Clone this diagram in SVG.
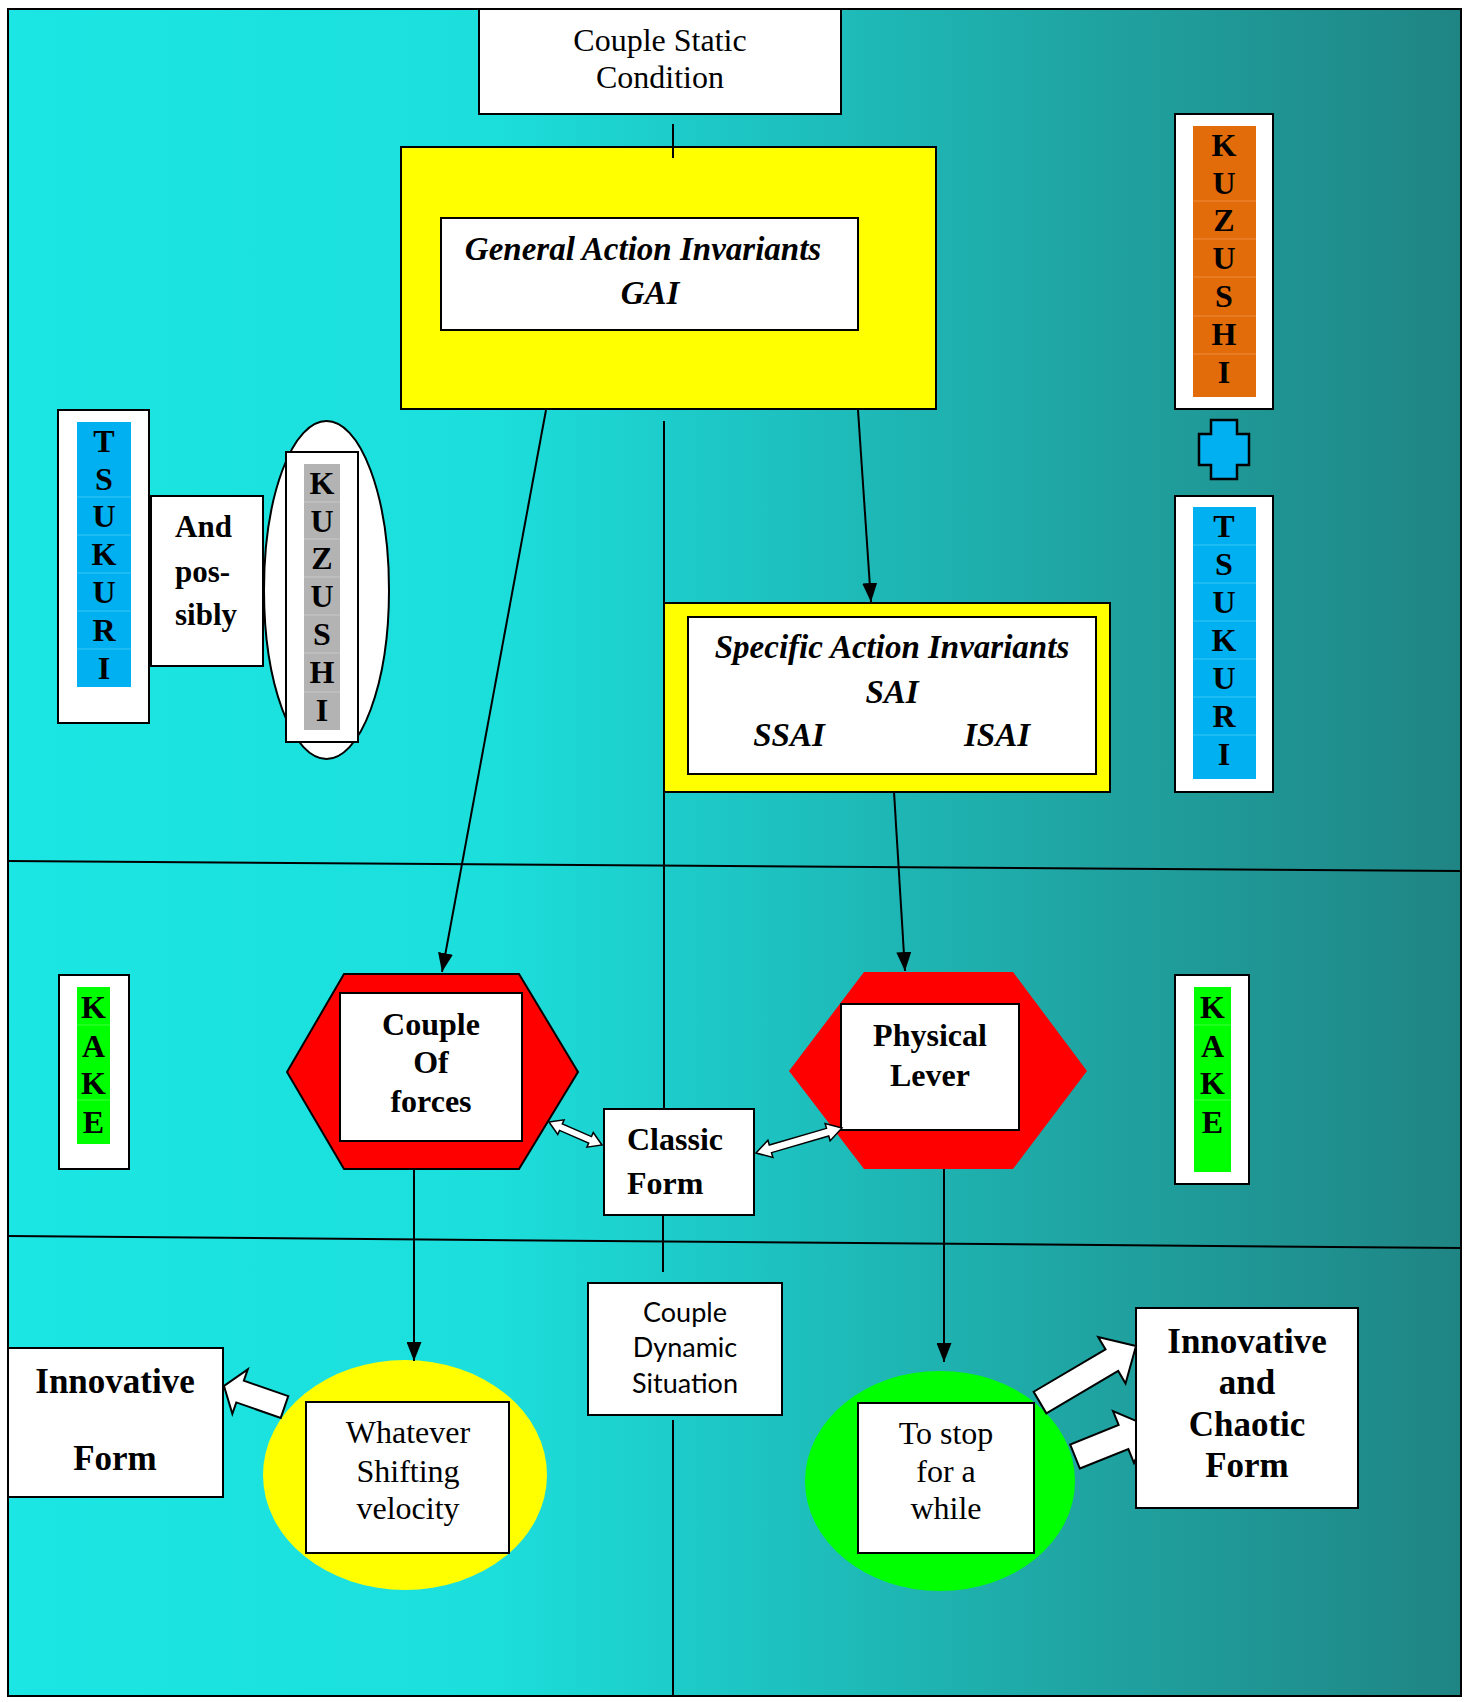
<svg xmlns="http://www.w3.org/2000/svg" width="1468" height="1702" viewBox="0 0 1468 1702">
<defs>
<linearGradient id="bg" x1="0" y1="0" x2="1" y2="0">
<stop offset="0" stop-color="#1BE6E3"/>
<stop offset="0.33" stop-color="#1CDFDC"/>
<stop offset="0.5" stop-color="#1DC6C4"/>
<stop offset="0.75" stop-color="#1FA3A1"/>
<stop offset="1" stop-color="#1F8584"/>
</linearGradient>
<marker id="ah" viewBox="0 0 19 15" refX="19" refY="7.5" markerWidth="19" markerHeight="15" markerUnits="userSpaceOnUse" orient="auto">
<path d="M0,0 L19,7.5 L0,15 z" fill="#000"/>
</marker>
<style>
.box{fill:#fff;stroke:#000;stroke-width:2}
.ln{stroke:#000;stroke-width:2;fill:none}
.blk{fill:#fff;stroke:#000;stroke-width:2;stroke-linejoin:miter}
.dbl{fill:#fff;stroke:#000;stroke-width:1.5}
.sr{font-family:"Liberation Serif","Times New Roman",serif;fill:#000}
.b{font-weight:bold}
.i{font-style:italic}
.mid{text-anchor:middle}
.let{font-family:"Liberation Serif","Times New Roman",serif;font-weight:bold;font-size:32px;text-anchor:middle;fill:#000}
.sans{font-family:Lato,"Liberation Sans",sans-serif;font-size:27px;text-anchor:middle;fill:#000}
.cl-o{stroke:#EE8A3A;stroke-width:1}
.cl-b{stroke:#3CC4F5;stroke-width:1}
.cl-g{stroke:#C8C8C8;stroke-width:1}
.cl-n{stroke:#40FF40;stroke-width:1}
</style>
</defs>

<rect x="0" y="0" width="1468" height="1702" fill="#fff"/>
<rect x="8" y="9" width="1453" height="1687" fill="url(#bg)" stroke="#000" stroke-width="2"/>

<g id="dividers">
<line class="ln" x1="8" y1="861" x2="1461" y2="871"/>
<line class="ln" x1="8" y1="1236" x2="1461" y2="1248"/>
<line class="ln" x1="664" y1="421" x2="664" y2="1109"/>
<line class="ln" x1="663" y1="1215" x2="663" y2="1272"/>
<line class="ln" x1="673" y1="1420" x2="673" y2="1696"/>
</g>

<g id="couple-static">
<rect class="box" x="479" y="9" width="362" height="105"/>
<text class="sr mid" x="660" y="51" font-size="32">Couple Static</text>
<text class="sr mid" x="660" y="88" font-size="32">Condition</text>
</g>

<g id="gai">
<rect x="401" y="147" width="535" height="262" fill="#FFFF00" stroke="#000" stroke-width="2"/>
<rect class="box" x="441" y="218" width="417" height="112"/>
<text class="sr b i mid" x="643" y="260" font-size="33">General Action Invariants</text>
<text class="sr b i mid" x="650" y="304" font-size="33">GAI</text>
</g>

<g id="kuzushi-right">
<rect class="box" x="1175" y="114" width="98" height="295"/>
<rect x="1193" y="126" width="63" height="271" fill="#E36C0A"/>
<line class="cl-o" x1="1193" y1="201" x2="1256" y2="201"/>
<line class="cl-o" x1="1193" y1="239" x2="1256" y2="239"/>
<line class="cl-o" x1="1193" y1="277" x2="1256" y2="277"/>
<line class="cl-o" x1="1193" y1="316" x2="1256" y2="316"/>
<line class="cl-o" x1="1193" y1="354" x2="1256" y2="354"/>
<text class="let" x="1224" y="156">K</text>
<text class="let" x="1224" y="194">U</text>
<text class="let" x="1224" y="231">Z</text>
<text class="let" x="1224" y="269">U</text>
<text class="let" x="1224" y="307">S</text>
<text class="let" x="1224" y="345">H</text>
<text class="let" x="1224" y="383">I</text>
</g>

<g id="plus">
<path d="M1211,420 H1237 V434 H1249 V465 H1237 V479 H1211 V465 H1199 V434 H1211 Z" fill="#00B0F0" stroke="#000" stroke-width="2.5"/>
</g>

<g id="tsukuri-right">
<rect class="box" x="1175" y="496" width="98" height="296"/>
<rect x="1193" y="507" width="63" height="272" fill="#00B0F0"/>
<line class="cl-b" x1="1193" y1="545" x2="1256" y2="545"/>
<line class="cl-b" x1="1193" y1="583" x2="1256" y2="583"/>
<line class="cl-b" x1="1193" y1="621" x2="1256" y2="621"/>
<line class="cl-b" x1="1193" y1="659" x2="1256" y2="659"/>
<line class="cl-b" x1="1193" y1="697" x2="1256" y2="697"/>
<line class="cl-b" x1="1193" y1="735" x2="1256" y2="735"/>
<text class="let" x="1224" y="537">T</text>
<text class="let" x="1224" y="575">S</text>
<text class="let" x="1224" y="613">U</text>
<text class="let" x="1224" y="651">K</text>
<text class="let" x="1224" y="689">U</text>
<text class="let" x="1224" y="727">R</text>
<text class="let" x="1224" y="765">I</text>
</g>

<g id="tsukuri-left">
<rect class="box" x="58" y="410" width="91" height="313"/>
<rect x="77" y="422" width="54" height="265" fill="#00B0F0"/>
<line class="cl-b" x1="77" y1="497" x2="131" y2="497"/>
<line class="cl-b" x1="77" y1="535" x2="131" y2="535"/>
<line class="cl-b" x1="77" y1="573" x2="131" y2="573"/>
<line class="cl-b" x1="77" y1="611" x2="131" y2="611"/>
<line class="cl-b" x1="77" y1="649" x2="131" y2="649"/>
<text class="let" x="104" y="452">T</text>
<text class="let" x="104" y="490">S</text>
<text class="let" x="104" y="527">U</text>
<text class="let" x="104" y="565">K</text>
<text class="let" x="104" y="603">U</text>
<text class="let" x="104" y="641">R</text>
<text class="let" x="104" y="679">I</text>
</g>

<g id="and-possibly">
<rect class="box" x="151" y="496" width="112" height="170"/>
<text class="sr b" x="175" y="537" font-size="31">And</text>
<text class="sr b" x="175" y="582" font-size="31">pos-</text>
<text class="sr b" x="175" y="625" font-size="31">sibly</text>
</g>

<g id="kuzushi-left">
<ellipse cx="326.5" cy="590" rx="62.5" ry="169" fill="#fff" stroke="#000" stroke-width="2"/>
<rect class="box" x="286" y="452" width="72" height="290"/>
<rect x="304" y="464" width="36" height="266" fill="#B3B3B3"/>
<line class="cl-g" x1="304" y1="502" x2="340" y2="502"/>
<line class="cl-g" x1="304" y1="539" x2="340" y2="539"/>
<line class="cl-g" x1="304" y1="577" x2="340" y2="577"/>
<line class="cl-g" x1="304" y1="615" x2="340" y2="615"/>
<line class="cl-g" x1="304" y1="653" x2="340" y2="653"/>
<line class="cl-g" x1="304" y1="692" x2="340" y2="692"/>
<text class="let" x="322" y="494">K</text>
<text class="let" x="322" y="532">U</text>
<text class="let" x="322" y="569">Z</text>
<text class="let" x="322" y="607">U</text>
<text class="let" x="322" y="645">S</text>
<text class="let" x="322" y="683">H</text>
<text class="let" x="322" y="721">I</text>
</g>

<g id="sai">
<rect x="664" y="603" width="446" height="189" fill="#FFFF00" stroke="#000" stroke-width="2"/>
<rect class="box" x="688" y="617" width="408" height="157"/>
<text class="sr b i mid" x="892" y="658" font-size="33">Specific Action Invariants</text>
<text class="sr b i mid" x="892" y="703" font-size="33">SAI</text>
<text class="sr b i mid" x="789" y="746" font-size="33">SSAI</text>
<text class="sr b i mid" x="997" y="746" font-size="33">ISAI</text>
</g>

<g id="kake-left">
<rect class="box" x="59" y="975" width="70" height="194"/>
<rect x="77" y="987" width="33" height="157" fill="#00FF00"/>
<line class="cl-n" x1="77" y1="1025" x2="110" y2="1025"/>
<line class="cl-n" x1="77" y1="1100" x2="110" y2="1100"/>
<text class="let" x="93.5" y="1018">K</text>
<text class="let" x="93.5" y="1057">A</text>
<text class="let" x="93.5" y="1094">K</text>
<text class="let" x="93.5" y="1133">E</text>
</g>

<g id="kake-right">
<rect class="box" x="1175" y="975" width="74" height="209"/>
<rect x="1194" y="987" width="37" height="185" fill="#00FF00"/>
<line class="cl-n" x1="1194" y1="1025" x2="1231" y2="1025"/>
<line class="cl-n" x1="1194" y1="1100" x2="1231" y2="1100"/>
<text class="let" x="1212.5" y="1018">K</text>
<text class="let" x="1212.5" y="1057">A</text>
<text class="let" x="1212.5" y="1094">K</text>
<text class="let" x="1212.5" y="1133">E</text>
</g>

<g id="couple-of-forces">
<polygon points="287,1072 344,974 519,974 578,1072 519,1169 344,1169" fill="#FF0000" stroke="#000" stroke-width="2"/>
<rect class="box" x="340" y="993" width="182" height="148"/>
<text class="sr b mid" x="431" y="1035" font-size="32">Couple</text>
<text class="sr b mid" x="431" y="1073" font-size="32">Of</text>
<text class="sr b mid" x="431" y="1112" font-size="32">forces</text>
</g>

<g id="physical-lever">
<polygon points="789,1071 864,972 1013,972 1087,1071 1013,1169 864,1169" fill="#FF0000"/>
<rect class="box" x="841" y="1004" width="178" height="126"/>
<text class="sr b mid" x="930" y="1046" font-size="32">Physical</text>
<text class="sr b mid" x="930" y="1086" font-size="32">Lever</text>
</g>

<g id="classic-form">
<rect class="box" x="604" y="1109" width="150" height="106"/>
<text class="sr b" x="627" y="1150" font-size="32">Classic</text>
<text class="sr b" x="627" y="1194" font-size="32">Form</text>
</g>

<g id="couple-dynamic">
<rect class="box" x="588" y="1283" width="194" height="132"/>
<text class="sans" x="685" y="1322">Couple</text>
<text class="sans" x="685" y="1357">Dynamic</text>
<text class="sans" x="685" y="1393">Situation</text>
</g>

<g id="innovative-form">
<rect class="box" x="8" y="1348" width="215" height="149"/>
<text class="sr b mid" x="115" y="1393" font-size="35">Innovative</text>
<text class="sr b mid" x="115" y="1470" font-size="35">Form</text>
</g>

<g id="whatever">
<ellipse cx="405" cy="1475" rx="142" ry="115" fill="#FFFF00"/>
<rect class="box" x="306" y="1402" width="203" height="151"/>
<text class="sr mid" x="408" y="1443" font-size="32">Whatever</text>
<text class="sr mid" x="408" y="1482" font-size="32">Shifting</text>
<text class="sr mid" x="408" y="1519" font-size="32">velocity</text>
</g>

<g id="to-stop">
<ellipse cx="940" cy="1481" rx="135" ry="110" fill="#00FF00"/>
<rect class="box" x="858" y="1403" width="176" height="150"/>
<text class="sr mid" x="946" y="1444" font-size="32">To stop</text>
<text class="sr mid" x="946" y="1482" font-size="32">for a</text>
<text class="sr mid" x="946" y="1519" font-size="32">while</text>
</g>

<g id="innovative-chaotic">
<rect class="box" x="1136" y="1308" width="222" height="200"/>
<text class="sr b mid" x="1247" y="1353" font-size="35">Innovative</text>
<text class="sr b mid" x="1247" y="1394" font-size="35">and</text>
<text class="sr b mid" x="1247" y="1436" font-size="35">Chaotic</text>
<text class="sr b mid" x="1247" y="1477" font-size="35">Form</text>
</g>

<g id="connectors">
<line class="ln" x1="673" y1="124" x2="673" y2="158"/>
<line class="ln" x1="546" y1="410" x2="442" y2="972" marker-end="url(#ah)"/>
<line class="ln" x1="858" y1="410" x2="871" y2="602" marker-end="url(#ah)"/>
<line class="ln" x1="894" y1="792" x2="905" y2="971" marker-end="url(#ah)"/>
<line class="ln" x1="414" y1="1169" x2="414" y2="1361" marker-end="url(#ah)"/>
<line class="ln" x1="944" y1="1169" x2="944" y2="1362" marker-end="url(#ah)"/>
<polygon class="dbl" points="549,1122 564.1,1119.84 562.31,1123.97 591.47,1136.61 593.26,1132.48 602,1145 586.9,1147.16 588.69,1143.03 559.53,1130.39 557.74,1134.52"/>
<polygon class="dbl" points="756,1153 767.89,1140.17 769.28,1144.97 826.48,1128.35 825.09,1123.55 842,1128 830.11,1140.83 828.72,1136.03 771.52,1152.65 772.91,1157.45"/>
<polygon class="blk" points="288.27,1396.14 243.83,1380.71 247.77,1369.37 224,1386 232.35,1413.77 236.29,1402.43 280.73,1417.86"/>
<polygon class="blk" points="1046.34,1413.27 1118.21,1370.97 1125.56,1383.47 1136,1346 1098.18,1336.93 1105.53,1349.43 1033.66,1391.73"/>
<polygon class="blk" points="1079.86,1468.55 1128.36,1449.05 1134,1463 1136,1458.3 1136,1420.8 1113.03,1411.04 1118.64,1424.95 1070.14,1444.45"/>
</g>
</svg>
